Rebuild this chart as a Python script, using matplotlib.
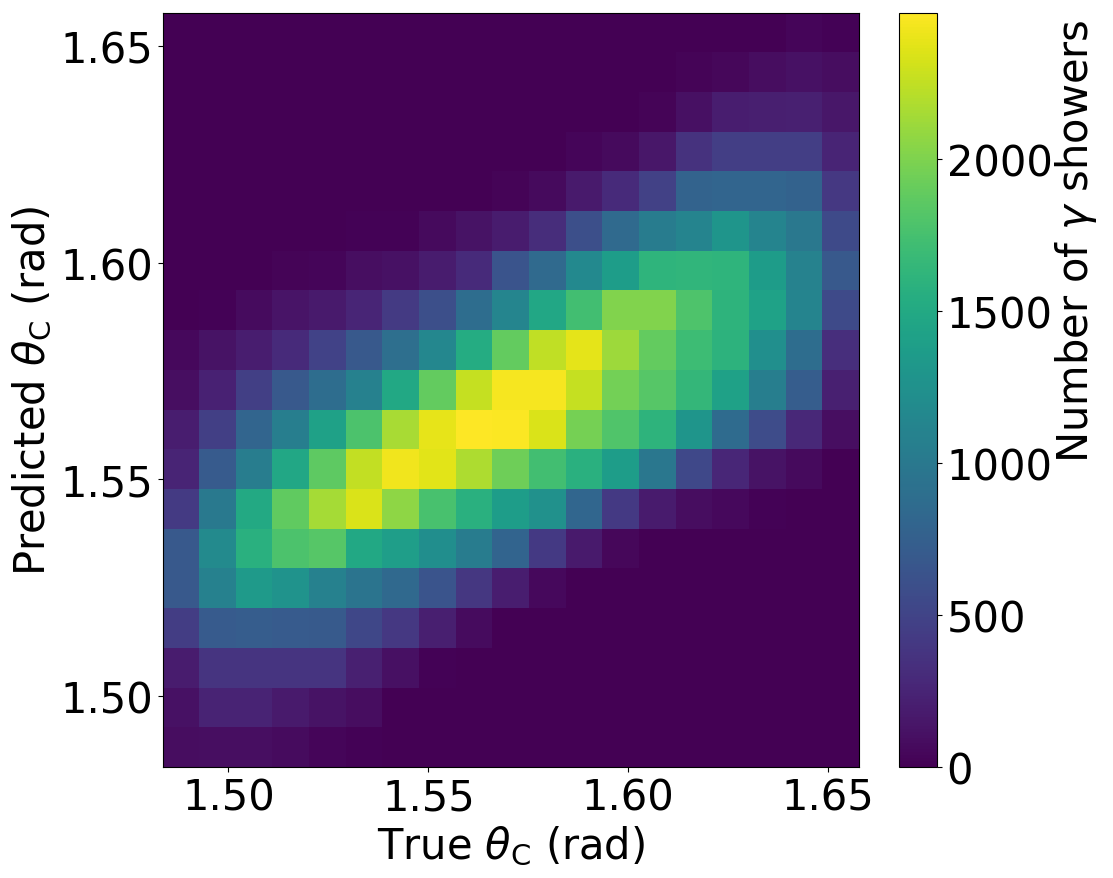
import numpy as np
import matplotlib
matplotlib.use('Agg')
import matplotlib.pyplot as plt

# bin edges of the 2d histogram
x_min, x_max = 1.4835, 1.6577
y_min, y_max = 1.4835, 1.6578
n_bins = 19

# counts per bin, top row first
row00 = [0, 0, 0, 0, 0, 0, 0, 0, 0, 0, 0, 0, 0, 0, 0, 0, 5, 30, 10]
row01 = [0, 0, 0, 0, 0, 0, 0, 0, 0, 0, 0, 0, 0, 0, 25, 40, 80, 110, 85]
row02 = [0, 0, 0, 0, 0, 0, 0, 0, 0, 0, 0, 0, 0, 20, 100, 200, 210, 220, 150]
row03 = [0, 0, 0, 0, 0, 0, 0, 0, 0, 0, 0, 30, 60, 150, 350, 450, 450, 450, 250]
row04 = [0, 0, 0, 0, 0, 0, 0, 0, 3, 20, 60, 165, 300, 480, 780, 800, 800, 770, 400]
row05 = [0, 0, 0, 0, 0, 10, 10, 60, 120, 190, 310, 600, 850, 1030, 1120, 1290, 1120, 990, 560]
row06 = [0, 0, 0, 20, 30, 90, 115, 190, 300, 640, 850, 1170, 1370, 1610, 1620, 1610, 1360, 1100, 680]
row07 = [5, 10, 70, 130, 170, 260, 420, 600, 880, 1130, 1480, 1730, 2010, 2010, 1790, 1600, 1430, 1120, 560]
row08 = [50, 120, 200, 300, 490, 680, 900, 1150, 1530, 1880, 2240, 2380, 2120, 1880, 1700, 1590, 1230, 880, 320]
row09 = [90, 230, 460, 680, 880, 1080, 1490, 1880, 2260, 2450, 2450, 2260, 1950, 1830, 1640, 1420, 1050, 720, 220]
row10 = [200, 460, 800, 1050, 1420, 1780, 2160, 2390, 2480, 2470, 2340, 1960, 1800, 1600, 1290, 860, 570, 280, 90]
row11 = [250, 700, 1040, 1480, 1860, 2250, 2430, 2370, 2170, 1930, 1730, 1570, 1370, 980, 540, 270, 120, 60, 5]
row12 = [420, 1000, 1500, 1870, 2150, 2340, 2060, 1760, 1570, 1370, 1240, 810, 410, 180, 80, 50, 15, 5, 0]
row13 = [680, 1180, 1570, 1780, 1830, 1490, 1380, 1220, 1030, 790, 410, 170, 40, 8, 0, 0, 0, 0, 0]
row14 = [680, 1080, 1340, 1270, 1080, 950, 840, 640, 390, 200, 50, 5, 0, 0, 0, 0, 0, 0, 0]
row15 = [440, 700, 720, 700, 690, 530, 400, 210, 70, 5, 3, 0, 0, 0, 0, 0, 0, 0, 0]
row16 = [190, 370, 370, 370, 370, 220, 100, 10, 0, 0, 0, 0, 0, 0, 0, 0, 0, 0, 0]
row17 = [110, 240, 240, 170, 120, 80, 2, 0, 0, 0, 0, 0, 0, 0, 0, 0, 0, 0, 0]
row18 = [85, 95, 95, 75, 30, 10, 0, 0, 0, 0, 0, 0, 0, 0, 0, 0, 0, 0, 0]

xticks = [1.50, 1.55, 1.60, 1.65]
yticks = [1.50, 1.55, 1.60, 1.65]
cticks = [0, 500, 1000, 1500, 2000]

counts = np.array([row00, row01, row02, row03, row04, row05, row06, row07, row08, row09,
                   row10, row11, row12, row13, row14, row15, row16, row17, row18])[::-1]

W, H = 1113, 879
fs = 30

fig = plt.figure(figsize=(W / 100, H / 100), dpi=100)
ax = fig.add_axes([162.5 / W, (H - 768) / H, 696.5 / W, 754.5 / H])
cax = fig.add_axes([899 / W, (H - 768) / H, 38 / W, 754.5 / H])

xedges = np.linspace(x_min, x_max, n_bins + 1)
yedges = np.linspace(y_min, y_max, n_bins + 1)
mesh = ax.pcolormesh(xedges, yedges, counts, cmap='viridis', vmin=0, vmax=2480)

ax.set_xticks(xticks)
ax.set_yticks(yticks)
ax.set_xticklabels(['%.2f' % t for t in xticks])
ax.set_yticklabels(['%.2f' % t for t in yticks])
ax.tick_params(labelsize=fs)
ax.set_xlabel(r'True $\theta_{\mathrm{C}}$ (rad)', fontsize=fs)
ax.set_ylabel(r'Predicted $\theta_{\mathrm{C}}$ (rad)', fontsize=fs)

cbar = fig.colorbar(mesh, cax=cax)
cbar.set_ticks(cticks)
cbar.ax.tick_params(labelsize=fs)
# label sits high on the bar in the original
cbar.set_label(r'Number of $\gamma$ showers', fontsize=fs, y=0.698, labelpad=0)

fig.savefig('out.png', dpi=100)
